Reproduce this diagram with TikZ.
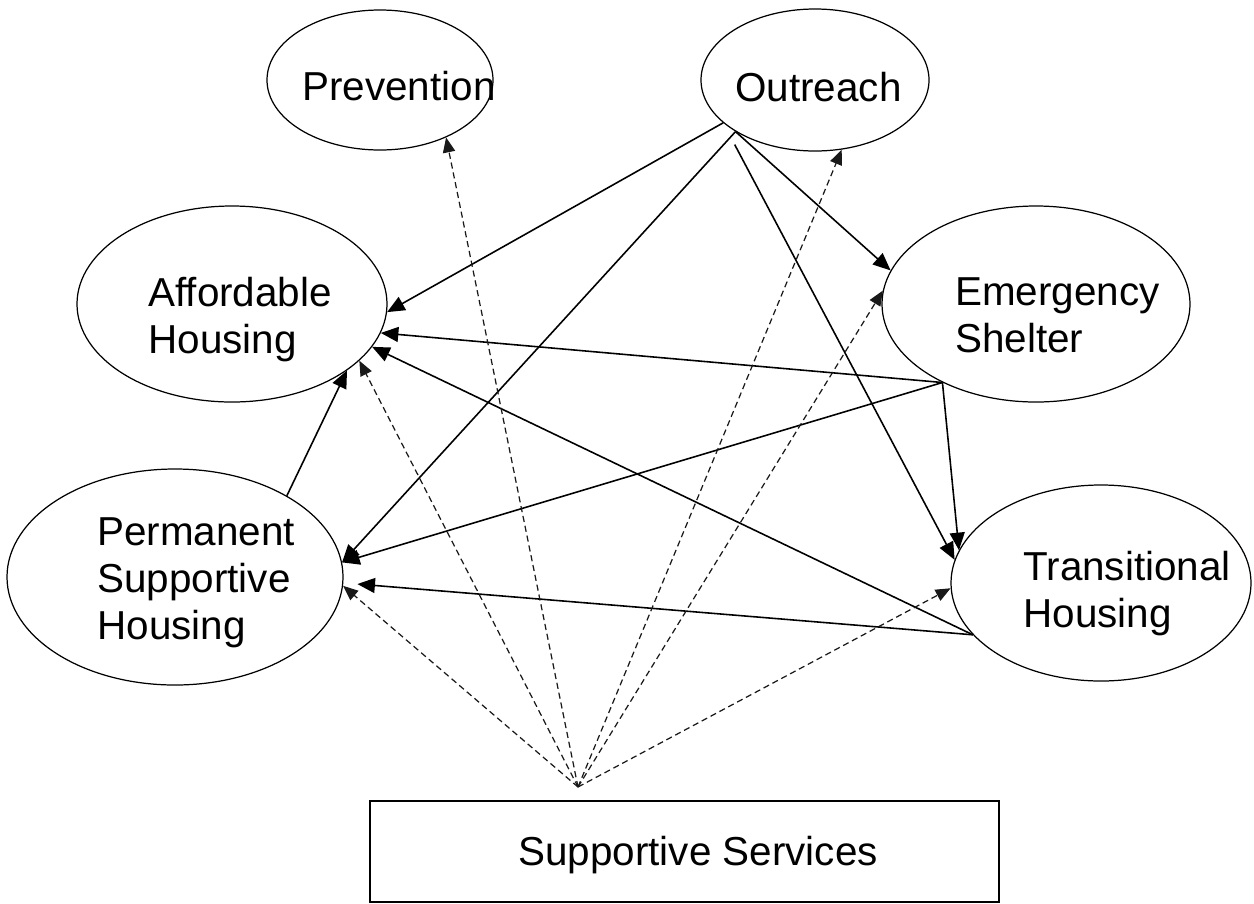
\documentclass[tikz,border=0pt]{standalone}
\usepackage{fontspec}
\setmainfont{Liberation Sans}
\usetikzlibrary{arrows.meta,shapes.geometric}
\begin{document}
\begin{tikzpicture}[
    blob/.style={draw,ellipse,line width=0.7pt,inner sep=0pt},
    lbl/.style={anchor=north west,inner sep=0pt,align=left,font=\fontsize{23}{26.7}\selectfont},
    link/.style={line width=0.9pt,-{Triangle[length=10pt,width=8.5pt]}},
    serv/.style={line width=0.7pt,black!90,dash pattern=on 3.5pt off 2.2pt,-{Triangle[length=8.5pt,width=7pt]}}]
  \useasboundingbox (0,0) rectangle (25.08,-18.06);
  % programme areas
  \node [blob,minimum width=4.52cm,minimum height=2.80cm] (pv)  at (7.60,-1.60) {};
  \node [blob,minimum width=4.56cm,minimum height=2.84cm] (or)  at (16.30,-1.60) {};
  \node [blob,minimum width=6.20cm,minimum height=3.92cm] (ah)  at (4.64,-6.08) {};
  \node [blob,minimum width=6.16cm,minimum height=3.92cm] (es)  at (20.72,-6.08) {};
  \node [blob,minimum width=6.72cm,minimum height=4.32cm] (psh) at (3.50,-11.54) {};
  \node [blob,minimum width=6.00cm,minimum height=3.92cm] (th)  at (22.02,-11.66) {};
  \node [draw,line width=0.7pt,minimum width=12.58cm,minimum height=2.02cm] (ss) at (13.69,-17.03) {};
  \coordinate (hub) at (11.56,-15.74);
  % labels
  \node [lbl] (pv-lbl)  at (6.04,-1.42)   {Prevention};
  \node [lbl] (or-lbl)  at (14.70,-1.44)  {Outreach};
  \node [lbl] (ah-lbl)  at (2.96,-5.54)   {Affordable\\Housing};
  \node [lbl] (es-lbl)  at (19.10,-5.54)  {Emergency\\Shelter};
  \node [lbl] (psh-lbl) at (1.94,-10.34)  {Permanent\\Supportive\\Housing};
  \node [lbl] (th-lbl)  at (20.46,-11.02) {Transitional\\Housing};
  \node [lbl] (ss-lbl)  at (10.36,-16.72) {Supportive Services};
  % flows between programmes
  \draw [link] (or.205) -- (ah.-3);
  \draw [link] (or.213) -- (psh.5);
  \draw [link] (or.213) -- (es.167);
  \draw [link,shorten <=14pt] (or.205) -- (th.171);
  \draw [link] (es.220) -- (ah.-11);
  \draw [link] (es.220) -- (psh.5);
  \draw [link] (es.220) -- (th.167);
  \draw [link] (th.202) -- (ah.-17);
  \draw [link,shorten >=8pt] (th.202) -- (psh.-2);
  \draw [link] (psh.36) -- (ah.-30);
  % services reach every programme
  \draw [serv] (hub) -- (pv.-41);
  \draw [serv] (hub) -- (or.-69);
  \draw [serv] (hub) -- (es.175);
  \draw [serv] (hub) -- (th.182);
  \draw [serv] (hub) -- (ah.-24);
  \draw [serv] (hub) -- (psh.-3);
\end{tikzpicture}
\end{document}
